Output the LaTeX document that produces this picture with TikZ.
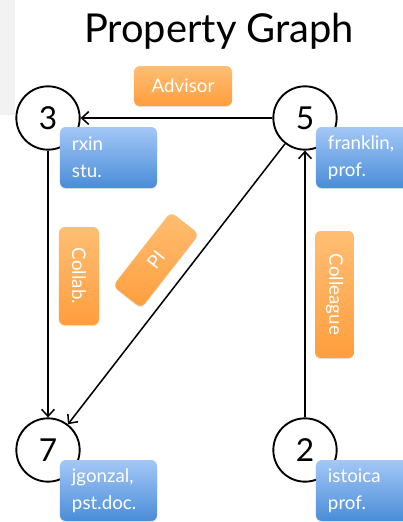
\documentclass[tikz,border=0pt]{standalone}
\usepackage{fontspec}
\setmainfont{Lato}
\usetikzlibrary{arrows.meta,shadows}

\definecolor{propTop}{HTML}{A3C8F7}
\definecolor{propBot}{HTML}{4A8CD8}
\definecolor{relTop}{HTML}{FFBE73}
\definecolor{relBot}{HTML}{FF9E3D}

\begin{document}
\begin{tikzpicture}[x=0.03cm,y=-0.03cm,
  main node/.style={circle,draw,fill=white,line width=1.6pt,minimum size=1.9cm,inner sep=0pt,
    font=\fontsize{27}{27}\selectfont},
  prop node/.style={rounded corners=5pt,top color=propTop,bottom color=propBot,text=white,
    minimum width=2.91cm,minimum height=1.83cm,inner xsep=0.36cm,text width=2.19cm,align=left,
    font=\fontsize{16}{23}\selectfont,drop shadow={opacity=0.2,shadow xshift=0pt,shadow yshift=-1pt}},
  rel node/.style={rounded corners=5pt,top color=relTop,bottom color=relBot,text=white,
    minimum width=2.94cm,minimum height=1.2cm,inner sep=0pt,
    font=\fontsize{16}{16}\selectfont,drop shadow={opacity=0.2,shadow xshift=0pt,shadow yshift=-1pt}},
  edge/.style={-{Straight Barb[length=6pt,width=11pt]},line width=1.3pt}]

\useasboundingbox (0,0) rectangle (403,522);
\clip (0,0) rectangle (403,522);
\fill[black!5] (0,0) rectangle (15,115);

\node [anchor=base,font=\fontsize{34}{34}\selectfont] (title) at (219,42) {Property Graph};

% vertices
\node[main node] (n3) at (48,118) {3};
\node[main node] (n5) at (305,118) {5};
\node[main node] (n7) at (48,450) {7};
\node[main node] (n2) at (305,450) {2};

% edges
\draw[edge] (n5) -- (n3);
\draw[edge] (n3) -- (n7);
\draw[edge] (n5) -- (n7);
\draw[edge] (n2) -- (n5);

% vertex properties
\node[prop node] (p3) at (108.5,157.5) {rxin\\stu.};
\node[prop node] (p5) at (364.5,157.5) {franklin,\\prof.};
\node[prop node] (p7) at (108.5,490.5) {jgonzal,\\pst.doc.};
\node[prop node] (p2) at (364.5,490.5) {istoica\\prof.};

% edge properties
\node[rel node] (advisor) at (183,86) {Advisor};
\node[rel node,rotate=-90] (collab) at (79,276) {Collab.};
\node[rel node,rotate=52,minimum width=2.82cm,minimum height=1.08cm] (pi) at (156,260) {PI};
\node[rel node,rotate=-90,minimum width=3.81cm,minimum height=1.17cm] (colleague) at (334.5,294.5) {Colleague};

\end{tikzpicture}
\end{document}
